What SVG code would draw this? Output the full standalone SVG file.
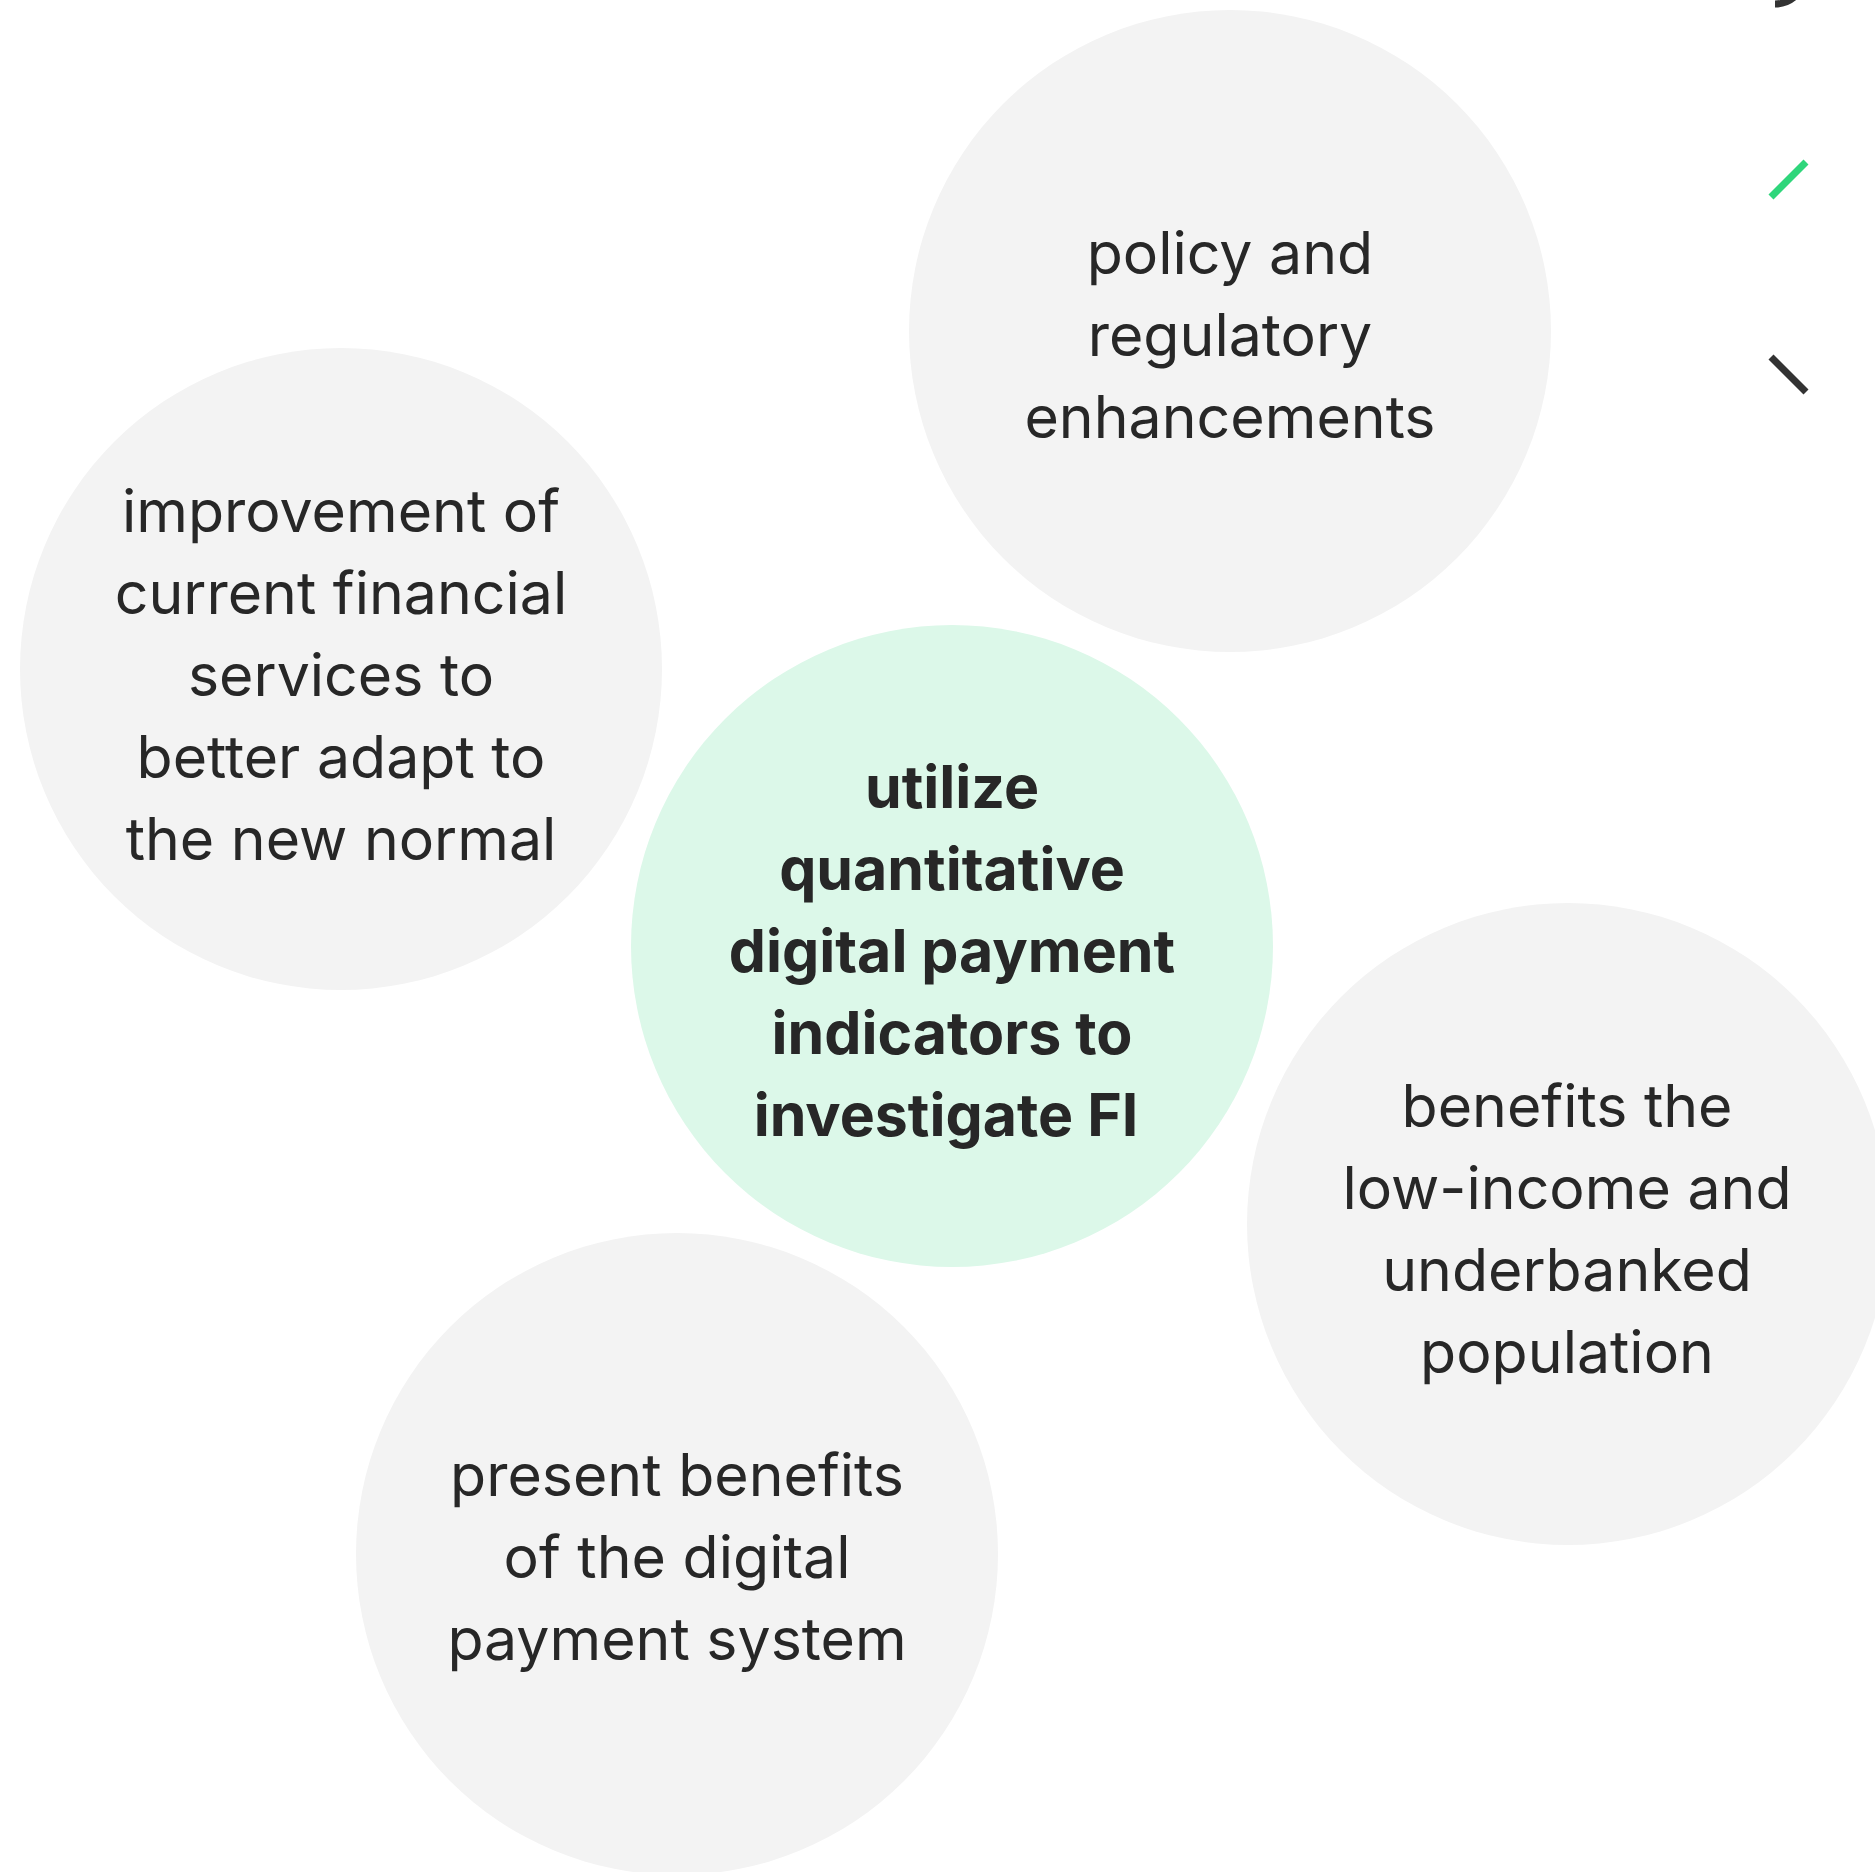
<svg xmlns="http://www.w3.org/2000/svg" width="1875" height="1872" viewBox="0 0 1875 1872">
  <style>
    .bubble { fill: #f3f3f3; }
    .core { fill: #dcf8e9; }
    .label { font-family: Inter, "Noto Sans", "Liberation Sans", sans-serif; font-size: 59px; fill: #272727; text-anchor: middle; }
    .label-bold { font-weight: 700; }
    .tick { stroke-width: 7; fill: none; stroke-linecap: butt; }
  </style>
  <rect width="1875" height="1872" fill="#ffffff"/>

  <!-- line breaks are kept inside the tags so no stray spaces shift the centring -->
  <g id="node-policy">
    <circle class="bubble" cx="1230" cy="331" r="321"/>
    <text class="label"><tspan x="1230" y="274">policy and</tspan><tspan
      x="1230" y="356">regulatory</tspan><tspan
      x="1230" y="438">enhancements</tspan></text>
  </g>

  <g id="node-improvement">
    <circle class="bubble" cx="341" cy="669" r="321"/>
    <text class="label"><tspan x="341" y="532">improvement of</tspan><tspan
      x="341" y="614">current financial</tspan><tspan
      x="341" y="696">services to</tspan><tspan
      x="341" y="778">better adapt to</tspan><tspan
      x="341" y="860">the new normal</tspan></text>
  </g>

  <g id="node-benefits-low-income">
    <circle class="bubble" cx="1568" cy="1224" r="321"/>
    <text class="label"><tspan x="1567" y="1127">benefits the</tspan><tspan
      x="1567" y="1209">low-income and</tspan><tspan
      x="1567" y="1291">underbanked</tspan><tspan
      x="1567" y="1373">population</tspan></text>
  </g>

  <g id="node-present-benefits">
    <circle class="bubble" cx="677" cy="1554" r="321"/>
    <text class="label"><tspan x="677" y="1496">present benefits</tspan><tspan
      x="677" y="1578">of the digital</tspan><tspan
      x="677" y="1660">payment system</tspan></text>
  </g>

  <g id="node-center">
    <circle class="core" cx="952" cy="946" r="321"/>
    <text class="label label-bold"><tspan x="952" y="808">utilize</tspan><tspan
      x="952" y="890">quantitative</tspan><tspan
      x="952" y="972">digital payment</tspan><tspan
      x="952" y="1054">indicators to</tspan><tspan
      x="946" y="1136">investigate FI</tspan></text>
  </g>

  <g id="connectors">
    <path class="tick" stroke="#333333" d="M 1775 4 A 30 30 0 0 0 1805 -26"/>
    <line class="tick" stroke="#2fd67b" x1="1771" y1="197" x2="1806" y2="162"/>
    <line class="tick" stroke="#333333" x1="1771" y1="357" x2="1806" y2="392"/>
  </g>
</svg>
